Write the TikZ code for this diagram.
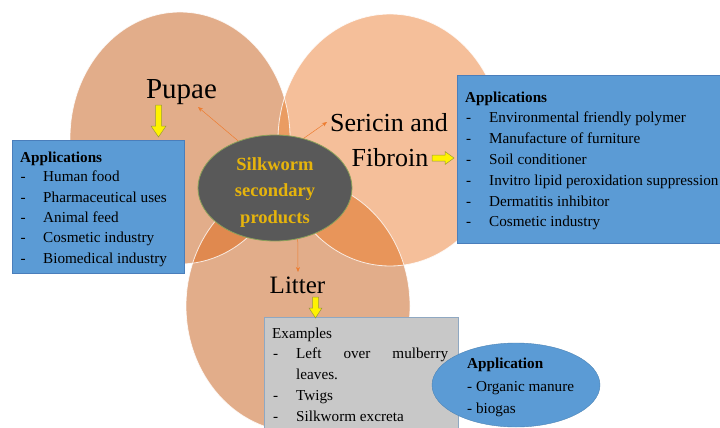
\documentclass[tikz,border=0pt]{standalone}
\usepackage{fontspec}
\setmainfont{Liberation Serif}
\usetikzlibrary{arrows.meta,shapes.geometric}
\definecolor{cP}{HTML}{E2AD8A}
\definecolor{cS}{HTML}{F5BF9A}
\definecolor{cL}{HTML}{E2AD8A}
\definecolor{cPS}{HTML}{EA9C62}
\definecolor{cPL}{HTML}{E0894F}
\definecolor{cSL}{HTML}{E8955A}
\definecolor{coregray}{HTML}{595959}
\definecolor{coreedge}{HTML}{8AA05A}
\definecolor{coretext}{HTML}{E6B40C}
\definecolor{boxblue}{HTML}{5B9BD5}
\definecolor{boxedge}{HTML}{4A7EBB}
\definecolor{graybox}{HTML}{C8C8C8}
\definecolor{grayedge}{HTML}{8FA8C2}
\definecolor{arrowor}{HTML}{ED7D31}
\definecolor{yarrline}{HTML}{9A9A3A}
\begin{document}
\begin{tikzpicture}[x=1pt,y=-1pt,
  lbl/.style={anchor=base, inner sep=0pt},
  txt/.style={anchor=base west, inner sep=0pt, font=\fontsize{15.2}{18}\selectfont},
  thinarrow/.style={draw=arrowor, line width=0.5pt, -{Stealth[length=5pt,width=4pt]}},
  yarr/.style={fill=yellow, draw=yarrline, line width=0.5pt},
  bluebox/.style={fill=boxblue, draw=boxedge, line width=0.6pt, inner sep=0pt, anchor=north west},
  ring/.style={draw=white, line width=0.8pt, draw opacity=0.8}]
\useasboundingbox (0,0) rectangle (720,428);
\fill[white] (0,0) rectangle (720,428);
% Venn circles
\coordinate (cpu) at (180,138);
\coordinate (cse) at (390,140);
\coordinate (cli) at (298,306);
\fill[cP] (cpu) ellipse [x radius=110pt, y radius=126pt];
\fill[cS] (cse) ellipse [x radius=112pt, y radius=126pt];
\fill[cL] (cli) ellipse [x radius=112pt, y radius=126pt];
\begin{scope}
  \clip (cpu) ellipse [x radius=110pt, y radius=126pt];
  \fill[cPS] (cse) ellipse [x radius=112pt, y radius=126pt];
  \fill[cPL] (cli) ellipse [x radius=112pt, y radius=126pt];
\end{scope}
\begin{scope}
  \clip (cse) ellipse [x radius=112pt, y radius=126pt];
  \fill[cSL] (cli) ellipse [x radius=112pt, y radius=126pt];
\end{scope}
\draw[ring] (cpu) ellipse [x radius=110pt, y radius=126pt];
\draw[ring] (cse) ellipse [x radius=112pt, y radius=126pt];
\draw[ring] (cli) ellipse [x radius=112pt, y radius=126pt];

% central node
\node[ellipse, fill=coregray, draw=coreedge, line width=0.8pt,
      minimum width=154pt, minimum height=106pt, inner sep=0pt] (core) at (275,188) {};
\node[inner sep=0pt, text=coretext, align=center,
      font=\fontsize{18.5}{26.5}\selectfont\bfseries] (coretxt) at (275,192.5)
      {Silkworm\\secondary\\products};

% labels
\node[lbl, font=\fontsize{29}{33}\selectfont] (pupae) at (181.5,98) {Pupae};
\node[lbl, font=\fontsize{26}{30}\selectfont] (seri) at (389,131) {Sericin and};
\node[lbl, font=\fontsize{26}{30}\selectfont] (fibr) at (390,166) {Fibroin};
\node[lbl, font=\fontsize{25}{30}\selectfont] (litter) at (297.5,293) {Litter};

% thin arrows
\coordinate (tpu) at (198,107);
\coordinate (tse) at (327,122);
\coordinate (tli) at (298,272);
\draw[thinarrow] (core.128) -- (tpu);
\draw[thinarrow] (core.60) -- (tse);
\draw[thinarrow] (core.294) -- (tli);

% boxes
\node[bluebox, minimum width=172pt, minimum height=133pt] (lbox) at (12,140) {};
\node[bluebox, minimum width=266pt, minimum height=168pt] (rbox) at (457,75) {};
\node[fill=graybox, draw=grayedge, line width=0.6pt, inner sep=0pt, anchor=north west,
      minimum width=194pt, minimum height=118pt] (gbox) at (264,317) {};
\node[ellipse, fill=boxblue, draw=boxblue!85!black, line width=0.4pt,
      minimum width=168pt, minimum height=84pt, inner sep=0pt] (abox) at (516,385) {};

% yellow block arrows
\filldraw[yarr] (155.5,105) -- (161.5,105) -- (161.5,126) -- (166,126) -- (158.5,137) -- (151,126) -- (155.5,126) -- cycle;
\filldraw[yarr] (432,155) -- (445,155) -- (445,151.5) -- (454,158) -- (445,164.5) -- (445,161) -- (432,161) -- cycle;
\filldraw[yarr] (312.5,297) -- (318.5,297) -- (318.5,308) -- (322,308) -- (315.5,318) -- (309,308) -- (312.5,308) -- cycle;

% left box text
\node[txt] (lhead) at (20,162) {\textbf{Applications}};
\foreach \t [count=\i] in {Human food, Pharmaceutical uses, Animal feed, Cosmetic industry, Biomedical industry}{
  \node[txt] (ld\i) at (20.5,{161.5+20.3*\i}) {-};
  \node[txt] (lt\i) at (43,{161.5+20.3*\i}) {\t};
}
% right box text
\node[txt] (rhead) at (465,102) {\textbf{Applications}};
\foreach \t [count=\i] in {Environmental friendly polymer, Manufacture of furniture, Soil conditioner, Invitro lipid peroxidation suppression, Dermatitis inhibitor, Cosmetic industry}{
  \node[txt] (rd\i) at (466,{102+20.8*\i}) {-};
  \node[txt] (rt\i) at (489,{102+20.8*\i}) {\t};
}
% gray box text
\node[txt] (ghead) at (272,338) {Examples};
\node[txt] (gd1) at (273,358) {-};
\node[txt] (gt1) at (296,358) {\makebox[152pt][s]{Left\hfill over\hfill mulberry}};
\node[txt] (gt1b) at (296,379) {leaves.};
\node[txt] (gd2) at (273,400) {-};
\node[txt] (gt2) at (296,400) {Twigs};
\node[txt] (gd3) at (273,421) {-};
\node[txt] (gt3) at (296,421) {Silkworm excreta};
% ellipse text
\node[txt] (ahead) at (467,368) {\textbf{Application}};
\node[txt] (at1) at (467,391) {- Organic manure};
\node[txt] (at2) at (467,413) {- biogas};
\end{tikzpicture}
\end{document}
